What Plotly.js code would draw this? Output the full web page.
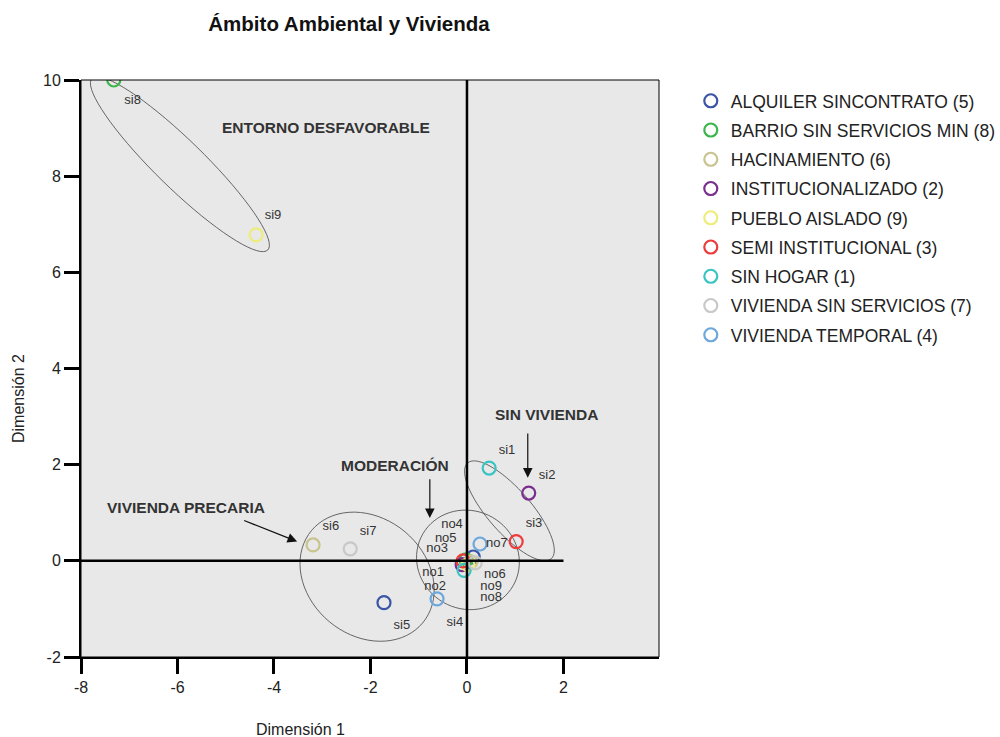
<!DOCTYPE html>
<html>
<head>
<meta charset="utf-8">
<script src="https://cdn.plot.ly/plotly-3.0.1.min.js"></script>
<style>body{margin:0;padding:0;background:#fff;}</style>
</head>
<body>
<div id="chart" style="width:1000px;height:737px;"></div>
<script>
//categories in legend order
var categories = ["ALQUILER SINCONTRATO (5)", "BARRIO SIN SERVICIOS MIN (8)", "HACINAMIENTO (6)",
  "INSTITUCIONALIZADO (2)", "PUEBLO AISLADO (9)", "SEMI INSTITUCIONAL (3)", "SIN HOGAR (1)",
  "VIVIENDA SIN SERVICIOS (7)", "VIVIENDA TEMPORAL (4)"];
var colors = ["#3a54a6", "#3cb54b", "#c9c48f", "#7a2e8e", "#eeec7a", "#ee3b3c", "#3ac4c4", "#c8c8c8", "#6ea7dc"];

//"si" and "no" coordinates for each category
var siX = [-1.72, -7.32, -3.19, 1.28, -4.37, 1.02, 0.46, -2.42, -0.62];
var siY = [-0.87, 10.0, 0.33, 1.41, 6.78, 0.40, 1.93, 0.25, -0.79];
var noX = [0.13, -0.02, 0.08, -0.10, 0.02, -0.08, -0.06, 0.17, 0.27];
var noY = [0.08, 0.02, -0.02, -0.08, -0.08, 0.00, -0.20, -0.04, 0.35];

//point labels
var labelText = ["si1", "si2", "si3", "si4", "si5", "si6", "si7", "si8", "si9",
  "no1", "no2", "no3", "no4", "no5", "no6", "no7", "no8", "no9"];
var labelX = [0.83, 1.66, 1.39, -0.25, -1.35, -2.82, -2.05, -6.93, -4.02,
  -0.70, -0.66, -0.62, -0.31, -0.44, 0.58, 0.62, 0.50, 0.50];
var labelY = [2.29, 1.77, 0.77, -1.29, -1.35, 0.71, 0.60, 9.56, 7.17,
  -0.25, -0.54, 0.25, 0.75, 0.46, -0.29, 0.35, -0.77, -0.53];

//group names
var groupText = ["ENTORNO DESFAVORABLE", "SIN VIVIENDA", "MODERACIÓN", "VIVIENDA PRECARIA"];
var groupX = [-2.92, 1.64, -1.49, -5.82];
var groupY = [9.02, 3.04, 1.98, 1.10];

//arrows: tail -> tip
var arrowTailX = [1.26, -0.77, -4.65];
var arrowTailY = [2.68, 1.73, 0.85];
var arrowTipX = [1.26, -0.77, -3.52];
var arrowTipY = [1.73, 0.89, 0.40];

//ellipses: center, semi axes, angle (deg)
var ellCX = [-5.95, 0.88, 0.02, -2.07];
var ellCY = [8.25, 1.04, 0.02, -0.33];
var ellA = [2.55, 1.32, 1.08, 1.50];
var ellB = [0.50, 0.45, 1.02, 1.22];
var ellAng = [-44.4, -49, -30, -40];

var tickVals = [-8, -6, -4, -2, 0, 2];
var tickText = ["-8", "-6", "-4", "-2", "0", "2"];
var yTickVals = [-2, 0, 2, 4, 6, 8, 10];
var yTickText = ["-2", "0", "2", "4", "6", "8", "10"];

var font = "Liberation Sans, Arial, sans-serif";

var data = [];
for (var i = 0; i < categories.length; i++) {
  data.push({
    x: [siX[i], noX[i]],
    y: [siY[i], noY[i]],
    name: categories[i],
    legendgroup: "g" + i,
    type: "scatter",
    mode: "markers",
    marker: {symbol: "circle-open", size: 13, color: colors[i], line: {width: 2.2, color: colors[i]}},
    hoverinfo: "name"
  });
}

data.push({
  x: labelX,
  y: labelY,
  text: labelText,
  type: "scatter",
  mode: "text",
  textfont: {family: font, size: 13, color: "#333"},
  showlegend: false,
  hoverinfo: "skip"
});

//build ellipse path from parameters
function ellipsePath(cx, cy, a, b, ang) {
  var t = ang * Math.PI / 180;
  var p = "";
  for (var k = 0; k <= 72; k++) {
    var s = k / 72 * 2 * Math.PI;
    var ex = cx + a * Math.cos(s) * Math.cos(t) - b * Math.sin(s) * Math.sin(t);
    var ey = cy + a * Math.cos(s) * Math.sin(t) + b * Math.sin(s) * Math.cos(t);
    p += (k === 0 ? "M" : "L") + ex.toFixed(4) + "," + ey.toFixed(4);
  }
  return p + "Z";
}

var shapes = [
  {type: "rect", xref: "paper", yref: "paper", x0: 0, x1: 1, y0: 0, y1: 1, line: {color: "#000", width: 1}},
  {type: "line", xref: "x", yref: "y", x0: -8, x1: 2, y0: 0, y1: 0, line: {color: "#000", width: 2.5}},
  {type: "line", xref: "x", yref: "y", x0: 0, x1: 0, y0: -2, y1: 10, line: {color: "#000", width: 2.5}}
];
for (var j = 0; j < ellCX.length; j++) {
  shapes.push({type: "path", xref: "x", yref: "y", layer: "below",
    path: ellipsePath(ellCX[j], ellCY[j], ellA[j], ellB[j], ellAng[j]),
    line: {color: "#444", width: 0.8}});
}

var annotations = [];
for (var g = 0; g < groupText.length; g++) {
  annotations.push({x: groupX[g], y: groupY[g], xref: "x", yref: "y", text: groupText[g],
    showarrow: false, font: {family: font, size: 15.5, color: "#333", weight: "bold"}});
}
for (var m = 0; m < arrowTipX.length; m++) {
  annotations.push({x: arrowTipX[m], y: arrowTipY[m], ax: arrowTailX[m], ay: arrowTailY[m],
    xref: "x", yref: "y", axref: "x", ayref: "y", text: "", showarrow: true,
    arrowhead: 2, arrowsize: 1.6, arrowwidth: 1.2, arrowcolor: "#111"});
}
annotations.push({x: (300 - 81) / 578, y: 0.0, xref: "paper", yref: "paper", yshift: -72, yanchor: "middle",
  text: "Dimensión 1", showarrow: false, font: {family: font, size: 16, color: "#222"}});
annotations.push({x: 0, y: (657 - 399) / 577, xref: "paper", yref: "paper", xshift: -63, xanchor: "center",
  text: "Dimensión 2", textangle: -90, showarrow: false, font: {family: font, size: 16, color: "#222"}});

var layout = {
  width: 1000,
  height: 737,
  title: {text: "Ámbito Ambiental y Vivienda", xref: "container", x: 0.349, xanchor: "center",
    yref: "container", y: 0.967, yanchor: "middle", font: {family: font, size: 20.5, color: "#111", weight: "bold"}},
  margin: {l: 81, r: 341, t: 80, b: 80, autoexpand: false},
  paper_bgcolor: "#fff",
  plot_bgcolor: "#e8e8e8",
  showlegend: true,
  legend: {x: 1.055, y: 0.995, xanchor: "left", yanchor: "top", font: {family: font, size: 17.5, color: "#222"},
    traceorder: "grouped", tracegroupgap: 3.5, bgcolor: "rgba(0,0,0,0)"},
  xaxis: {range: [-8, 3.98], tickvals: tickVals, ticktext: tickText, ticks: "outside", ticklen: 15, tickwidth: 2.5,
    tickcolor: "#000", showgrid: false, zeroline: false, showline: true, linecolor: "#000", linewidth: 2,
    tickfont: {family: font, size: 16, color: "#222"}},
  yaxis: {range: [-2, 10], tickvals: yTickVals, ticktext: yTickText, ticks: "outside", ticklen: 15, tickwidth: 2.5,
    tickcolor: "#000", showgrid: false, zeroline: false, showline: true, linecolor: "#000", linewidth: 2,
    tickfont: {family: font, size: 16, color: "#222"}},
  shapes: shapes,
  annotations: annotations
};

Plotly.newPlot("chart", data, layout, {displayModeBar: false});
</script>
</body>
</html>
